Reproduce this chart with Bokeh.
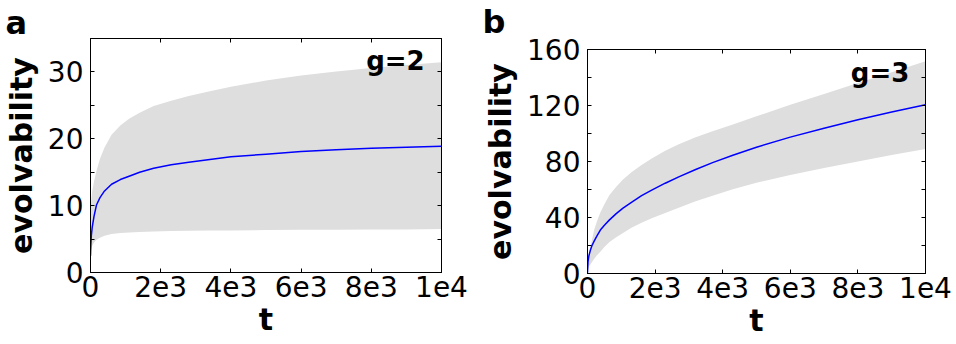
from bokeh.plotting import figure
from bokeh.layouts import row, column
from bokeh.models import Range1d, FixedTicker, LinearAxis, Label, Title
from bokeh.embed import file_html
from bokeh.resources import INLINE

# ---------------- data ----------------
x_ticks = [0, 2000, 4000, 6000, 8000, 10000]
x_tick_labels = ["0", "2e3", "4e3", "6e3", "8e3", "1e4"]

# panel a (g=2)
t_a = [0, 10, 25, 50, 100, 170, 270, 400, 600, 850, 1100, 1400, 1800, 2300,
       2800, 3400, 4000, 5000, 6000, 7000, 8000, 9000, 10000]
mean_a = [2.5, 4.2, 5.6, 6.8, 8.4, 10.1, 11.2, 12.2, 13.2, 13.9, 14.4, 15.0,
          15.6, 16.1, 16.5, 16.9, 17.3, 17.7, 18.1, 18.35, 18.6, 18.75, 18.9]
upper_a = [9.5, 10.0, 11.0, 12.2, 13.6, 15.2, 17.0, 18.7, 20.6, 22.0, 23.0,
           23.9, 24.9, 25.7, 26.4, 27.1, 27.8, 28.7, 29.45, 30.05, 30.6, 31.05,
           31.45]
lower_a = [3.0, 3.2, 3.6, 4.0, 4.5, 4.9, 5.2, 5.5, 5.75, 5.9, 6.0, 6.05, 6.15,
           6.2, 6.25, 6.3, 6.3, 6.35, 6.4, 6.4, 6.45, 6.45, 6.5]
y_ticks_a = [0, 10, 20, 30]
y_minor_a = [5, 15, 25]

# panel b (g=3)
t_b = [0, 15, 40, 80, 130, 200, 280, 380, 500, 650, 850, 1050, 1300, 1600,
       1900, 2300, 2700, 3200, 3700, 4300, 5000, 6000, 7000, 8000, 9000, 10000]
mean_b = [0.5, 8.5, 12.5, 16.2, 19.8, 23.3, 26.9, 31.0, 34.5, 38.3, 42.8, 46.7,
          50.8, 55.6, 59.6, 64.5, 69.0, 74.3, 79.2, 84.5, 90.2, 97.4, 103.8,
          109.8, 115.3, 120.5]
upper_b = [2.0, 8.0, 13.0, 18.5, 23.7, 31.5, 37.3, 43.5, 49.4, 56.0, 62.0, 67.1,
           72.3, 77.5, 82.2, 87.6, 92.3, 97.3, 101.6, 106.4, 112.3, 120.5, 128.3,
           136.0, 143.8, 151.6]
lower_b = [0.5, 3.0, 5.0, 6.2, 8.0, 10.6, 13.0, 15.6, 18.9, 22.5, 25.9, 29.0,
           32.6, 36.2, 39.4, 43.3, 47.0, 51.6, 55.6, 60.2, 64.8, 70.4, 75.3,
           80.0, 84.6, 89.0]
y_ticks_b = [0, 40, 80, 120, 160]
y_minor_b = [20, 60, 100, 140]

FONT = "DejaVu Sans"


def make_panel(t, mean, lower, upper, ymax, yt, ymin, letter, glabel, gy,
               width, height, bl, br, bt, bb, title_offset, title_standoff):
    p = figure(width=width, height=height, x_range=Range1d(0, 10000),
               y_range=Range1d(0, ymax), output_backend="svg",
               toolbar_location=None, min_border_left=bl, min_border_right=br,
               min_border_top=bt, min_border_bottom=bb,
               x_axis_label="t", y_axis_label="evolvability")
    p.title = Title(text=letter, align="left", offset=title_offset,
                    standoff=title_standoff, text_font=FONT,
                    text_font_size="32px", text_font_style="bold",
                    text_color="black")
    p.grid.visible = False
    p.outline_line_color = "black"
    p.outline_line_width = 1
    p.background_fill_color = "white"
    p.border_fill_color = "white"

    p.varea(x=t, y1=lower, y2=upper, fill_color="#dedede")
    p.line(t, mean, line_color="#0000ff", line_width=1.5)

    xt = FixedTicker(ticks=x_ticks)
    ytk = FixedTicker(ticks=yt, minor_ticks=ymin)
    overrides = {float(v): s for v, s in zip(x_ticks, x_tick_labels)}

    for ax in p.xaxis:
        ax.ticker = xt
        ax.major_label_overrides = overrides
        ax.major_label_standoff = 3
        ax.axis_label_standoff = 2
    for ax in p.yaxis:
        ax.ticker = ytk
        ax.major_label_standoff = 7
        ax.axis_label_standoff = 6
    for ax in list(p.xaxis) + list(p.yaxis):
        ax.major_label_text_font = FONT
        ax.major_label_text_font_size = "28px"
        ax.major_label_text_color = "black"
        ax.axis_label_text_font = FONT
        ax.axis_label_text_font_size = "30px"
        ax.axis_label_text_font_style = "bold"
        ax.axis_label_text_color = "black"
        ax.axis_line_color = "black"
        ax.major_tick_in = 4
        ax.major_tick_out = 0
        ax.minor_tick_in = 4
        ax.minor_tick_out = 0
        ax.major_tick_line_color = "black"
        ax.minor_tick_line_color = "black"

    right = LinearAxis(ticker=FixedTicker(ticks=yt, minor_ticks=ymin),
                       major_label_text_font_size="0px",
                       major_tick_in=4, major_tick_out=0, minor_tick_in=4,
                       minor_tick_out=0, major_label_standoff=0,
                       axis_line_color="black")
    p.add_layout(right, "right")
    top = LinearAxis(ticker=FixedTicker(ticks=x_ticks),
                     major_label_text_font_size="0px",
                     major_tick_in=4, major_tick_out=0, minor_tick_out=0,
                     major_label_standoff=0, axis_line_color="black")
    p.add_layout(top, "above")

    # g label inside frame top-right
    p.add_layout(Label(x=9520, y=ymax * gy, text=glabel, text_font=FONT,
                       text_font_size="26px", text_font_style="bold",
                       text_color="black", text_align="right",
                       text_baseline="alphabetic"))
    return p


pa = make_panel(t_a, mean_a, lower_a, upper_a, 35, y_ticks_a, y_minor_a,
                "a", "g=2", 0.904, 470, 344, 89, 29, 38, 72, -85, -6)
pb = make_panel(t_b, mean_b, lower_b, upper_b, 160, y_ticks_b, y_minor_b,
                "b", "g=3", 0.894, 486, 354, 117, 31, 59, 71, -105, 18)
pb.margin = (-10, 0, 0, 0)

layout = row(pa, column(pb))
open("out.html", "w").write(file_html(layout, INLINE))
